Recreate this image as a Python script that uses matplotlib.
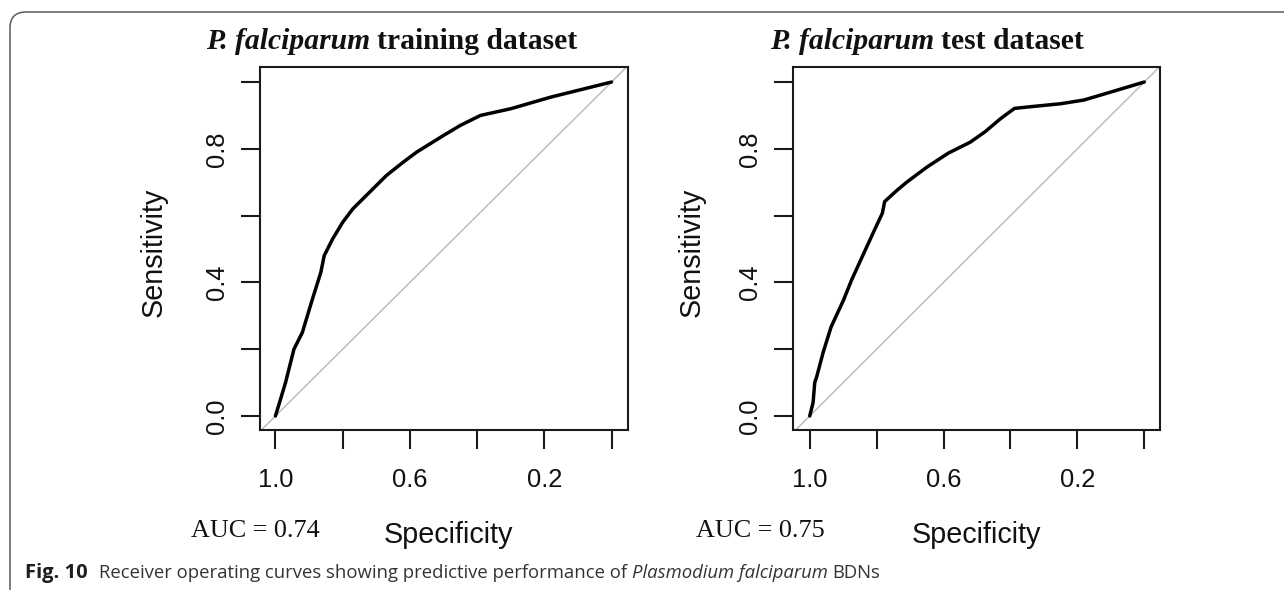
import matplotlib
matplotlib.use("Agg")
import matplotlib.pyplot as plt
from matplotlib.patches import FancyBboxPatch

# ---------------- data ----------------
train_spec = [1.00, 0.985, 0.97, 0.945, 0.92, 0.89, 0.865, 0.855, 0.83, 0.80, 0.77,
              0.72, 0.67, 0.62, 0.58, 0.50, 0.45, 0.39, 0.30, 0.18, 0.10, 0.00]
train_sens = [0.00, 0.05, 0.10, 0.20, 0.25, 0.35, 0.43, 0.48, 0.53, 0.58, 0.62,
              0.67, 0.72, 0.76, 0.79, 0.84, 0.87, 0.90, 0.92, 0.955, 0.975, 1.00]

test_spec = [1.00, 0.99, 0.985, 0.979, 0.96, 0.936, 0.899, 0.875, 0.838, 0.805, 0.783,
             0.776, 0.74, 0.709, 0.65, 0.586, 0.52, 0.476, 0.43, 0.388, 0.341, 0.25,
             0.181, 0.10, 0.00]
test_sens = [0.00, 0.04, 0.10, 0.118, 0.19, 0.267, 0.347, 0.407, 0.488, 0.56, 0.607,
             0.642, 0.675, 0.701, 0.745, 0.787, 0.82, 0.851, 0.89, 0.921, 0.926, 0.935,
             0.946, 0.97, 1.00]

titles_italic = ["P. falciparum", "P. falciparum"]
titles_rest = ["training dataset", "test dataset"]
auc_labels = ["AUC = 0.74", "AUC = 0.75"]
tick_vals = [1.0, 0.8, 0.6, 0.4, 0.2, 0.0]
xtick_labels = ["1.0", "", "0.6", "", "0.2", ""]
ytick_vals = [0.0, 0.2, 0.4, 0.6, 0.8, 1.0]
ytick_labels = ["0.0", "", "0.4", "", "0.8", ""]
xlabel_text = "Specificity"
ylabel_text = "Sensitivity"
caption_bold = "Fig. 10"
caption_main = "Receiver operating curves showing predictive performance of"
caption_ital = "Plasmodium falciparum"
caption_end = "BDNs"

# ---------------- figure ----------------
W, H = 1284, 590
fig = plt.figure(figsize=(W / 100, H / 100), dpi=100)
fig.patch.set_facecolor("white")

SANS = ["Liberation Sans", "DejaVu Sans"]
SERIF = ["Liberation Serif", "DejaVu Serif"]
CAP = ["Open Sans", "DejaVu Sans"]

# frame with rounded top-left corner
frame = FancyBboxPatch((0.10, -1.0), 20.0, 5.78 + 1.0,
                       boxstyle="round,pad=0,rounding_size=0.16",
                       transform=fig.dpi_scale_trans, fill=False,
                       edgecolor="#5a5a5a", linewidth=1.1, zorder=0)
fig.patches.append(frame)

panels = [
    dict(rect=[260 / W, 160 / H, 368 / W, 363 / H], xlim=(1.046, -0.049),
         spec=train_spec, sens=train_sens, ylab_x=-0.288, xlab_x=0.511,
         auc_x=-0.1875, title_x=206),
    dict(rect=[793 / W, 160 / H, 367 / W, 363 / H], xlim=(1.050, -0.047),
         spec=test_spec, sens=test_sens, ylab_x=-0.275, xlab_x=0.499,
         auc_x=-0.2643, title_x=770),
]

for i, p in enumerate(panels):
    ax = fig.add_axes(p["rect"])
    ax.set_xlim(*p["xlim"])
    ax.set_ylim(-0.042, 1.045)
    ax.axline((1.0, 0.0), (0.0, 1.0), color="#b8b8b8", lw=1.0, zorder=1)
    ax.plot(p["spec"], p["sens"], color="black", lw=2.5, zorder=2,
            solid_joinstyle="round", solid_capstyle="round")
    for s in ax.spines.values():
        s.set_linewidth(1.5)
        s.set_color("#1a1a1a")
    ax.set_xticks(tick_vals)
    ax.set_xticklabels(xtick_labels, fontsize=18.4, family=SANS)
    ax.set_yticks(ytick_vals)
    ax.set_yticklabels(ytick_labels, fontsize=18.4, family=SANS,
                       rotation=90, va="center")
    ax.tick_params(axis="both", direction="out", length=13.7, width=1.5,
                   color="#1a1a1a", labelcolor="#111111")
    ax.tick_params(axis="x", pad=13.5)
    ax.tick_params(axis="y", pad=8.9)
    ax.set_xlabel(xlabel_text, fontsize=20.7, family=SANS, va="baseline",
                  color="#111111")
    ax.xaxis.set_label_coords(p["xlab_x"], -0.311)
    ax.set_ylabel(ylabel_text, fontsize=20.7, family=SANS, va="center",
                  ha="center", color="#111111")
    ax.yaxis.set_label_coords(p["ylab_x"], 0.49)
    ax.text(p["auc_x"], -0.2948, auc_labels[i], transform=ax.transAxes,
            fontsize=18.8, family=SERIF, ha="left", va="baseline",
            color="#111111")
    # title: bold-italic genus + bold rest
    t1 = fig.text(p["title_x"] / W, 1 - 49 / H, titles_italic[i],
                  fontsize=21.3, family=SERIF, style="italic", weight="bold",
                  ha="left", va="baseline", color="#111111")
    fig.add_artist(matplotlib.text.Annotation(
        titles_rest[i], xy=(1.0, 1 - 49 / H), xycoords=(t1, "figure fraction"),
        xytext=(5, 0), textcoords="offset points", fontsize=21.3,
        family=SERIF, weight="bold", ha="left", va="baseline",
        color="#111111"))

# caption
cap_y = 1 - 578 / H
c1 = fig.text(25 / W, cap_y, caption_bold, fontsize=14.5, family=CAP,
              weight="bold", ha="left", va="baseline", color="#1e1e1e")
c2 = fig.add_artist(matplotlib.text.Annotation(
    caption_main, xy=(1.0, cap_y), xycoords=(c1, "figure fraction"),
    xytext=(8.5, 0), textcoords="offset points", fontsize=13.3,
    family=CAP, ha="left", va="baseline", color="#333333"))
c3 = fig.add_artist(matplotlib.text.Annotation(
    caption_ital, xy=(1.0, cap_y), xycoords=(c2, "figure fraction"),
    xytext=(3.2, 0), textcoords="offset points", fontsize=13.3,
    family=CAP, style="italic", ha="left", va="baseline",
    color="#333333"))
fig.add_artist(matplotlib.text.Annotation(
    caption_end, xy=(1.0, cap_y), xycoords=(c3, "figure fraction"),
    xytext=(3.2, 0), textcoords="offset points", fontsize=13.3,
    family=CAP, ha="left", va="baseline", color="#333333"))

fig.savefig("out.png", dpi=100, facecolor="white")
